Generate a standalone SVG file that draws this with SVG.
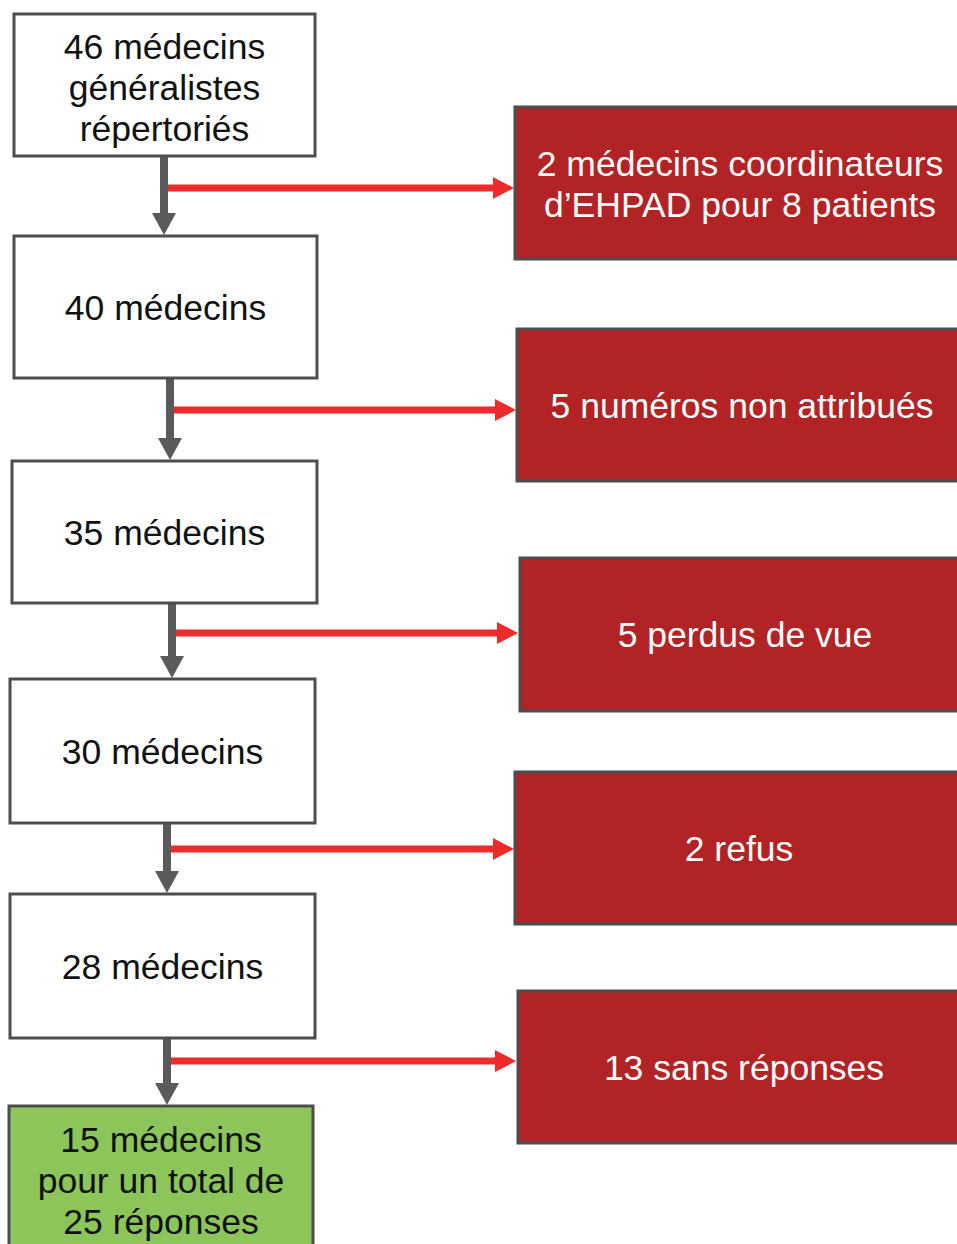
<svg xmlns="http://www.w3.org/2000/svg" width="957" height="1244" viewBox="0 0 957 1244">
<defs>
<style>
.box{fill:#ffffff;stroke:#4d4d4f;stroke-width:3}
.red{fill:#b22326;stroke:#4d4d4f;stroke-width:3}
.green{fill:#8cc65a;stroke:#4d4d4f;stroke-width:3}
.t{font-family:"Liberation Sans",Arial,sans-serif;font-size:35.5px;text-anchor:middle;fill:#111111}
.w{fill:#ffffff}
.g{stroke:#5a5a5c;stroke-width:8;fill:none}
.r{stroke:#ee2b2b;stroke-width:7;fill:none}
</style>
<marker id="ga" markerUnits="userSpaceOnUse" markerWidth="22" markerHeight="24" refX="0" refY="12" orient="auto" overflow="visible">
<path d="M0,0 L22,12 L0,24 z" fill="#5a5a5c"/>
</marker>
<marker id="ra" markerUnits="userSpaceOnUse" markerWidth="21" markerHeight="22" refX="0" refY="11" orient="auto" overflow="visible">
<path d="M0,0 L21,11 L0,22 z" fill="#ee2b2b"/>
</marker>
</defs>
<rect width="957" height="1244" fill="#ffffff"/>

<g id="connectors">
<line class="g" x1="164" y1="156" x2="164" y2="213" marker-end="url(#ga)"/>
<line class="r" x1="168" y1="188" x2="493" y2="188" marker-end="url(#ra)"/>
<line class="g" x1="170" y1="378" x2="170" y2="438" marker-end="url(#ga)"/>
<line class="r" x1="174" y1="410" x2="495" y2="410" marker-end="url(#ra)"/>
<line class="g" x1="172" y1="603" x2="172" y2="656" marker-end="url(#ga)"/>
<line class="r" x1="176" y1="633" x2="497" y2="633" marker-end="url(#ra)"/>
<line class="g" x1="167" y1="823" x2="167" y2="871" marker-end="url(#ga)"/>
<line class="r" x1="171" y1="849" x2="493" y2="849" marker-end="url(#ra)"/>
<line class="g" x1="167" y1="1038" x2="167" y2="1083" marker-end="url(#ga)"/>
<line class="r" x1="171" y1="1061" x2="495" y2="1061" marker-end="url(#ra)"/>
</g>

<g id="n1">
<rect class="box" x="14" y="14" width="301" height="142"/>
<text class="t" x="164.5" y="59">46 médecins</text>
<text class="t" x="164.5" y="100">généralistes</text>
<text class="t" x="164.5" y="141">répertoriés</text>
</g>
<g id="n2">
<rect class="box" x="14" y="236" width="303" height="142"/>
<text class="t" x="165.5" y="320">40 médecins</text>
</g>
<g id="n3">
<rect class="box" x="12" y="461" width="305" height="142"/>
<text class="t" x="164.5" y="545">35 médecins</text>
</g>
<g id="n4">
<rect class="box" x="10" y="679" width="305" height="144"/>
<text class="t" x="162.5" y="764">30 médecins</text>
</g>
<g id="n5">
<rect class="box" x="10" y="894" width="305" height="144"/>
<text class="t" x="162.5" y="979">28 médecins</text>
</g>
<g id="n6">
<rect class="green" x="9" y="1106" width="304" height="150"/>
<text class="t" x="161" y="1152">15 médecins</text>
<text class="t" x="161" y="1193">pour un total de</text>
<text class="t" x="161" y="1234">25 réponses</text>
</g>

<g id="r1">
<rect class="red" x="515" y="107" width="460" height="152"/>
<text class="t w" x="740" y="176">2 médecins coordinateurs</text>
<text class="t w" x="740" y="217">d’EHPAD pour 8 patients</text>
</g>
<g id="r2">
<rect class="red" x="517" y="329" width="460" height="152"/>
<text class="t w" x="742" y="418">5 numéros non attribués</text>
</g>
<g id="r3">
<rect class="red" x="520" y="558" width="460" height="153"/>
<text class="t w" x="745" y="647">5 perdus de vue</text>
</g>
<g id="r4">
<rect class="red" x="515" y="772" width="460" height="152"/>
<text class="t w" x="739" y="861">2 refus</text>
</g>
<g id="r5">
<rect class="red" x="518" y="991" width="460" height="152"/>
<text class="t w" x="744" y="1080">13 sans réponses</text>
</g>
</svg>
